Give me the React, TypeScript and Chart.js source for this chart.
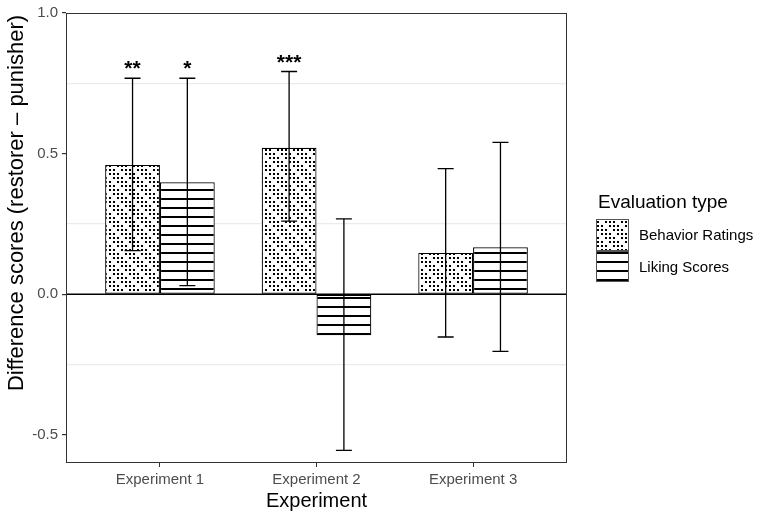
import React, { useEffect, useRef } from 'react';
import { Chart, registerables } from 'chart.js';

Chart.register(...registerables);

// ---- data ----
const categories = ['Experiment 1', 'Experiment 2', 'Experiment 3'];
const seriesNames = ['Behavior Ratings', 'Liking Scores'];
const behaviorMeans = [0.46, 0.521, 0.147];
const behaviorLow = [0.155, 0.26, -0.152];
const behaviorHigh = [0.768, 0.792, 0.447];
const likingMeans = [0.398, -0.146, 0.167];
const likingLow = [0.031, -0.555, -0.203];
const likingHigh = [0.768, 0.268, 0.54];
const behaviorStars = ['**', '***', ''];
const likingStars = ['*', '', ''];
const yMajorTicks = [-0.5, 0, 0.5, 1.0];
const yMinorTicks = [-0.25, 0.25, 0.75];
const yMin = -0.6;
const yMax = 1.0;
const xTitle = 'Experiment';
const yTitle = 'Difference scores (restorer \u2013 punisher)';
const legendTitle = 'Evaluation type';

const FONT = '"Liberation Sans", Arial, Helvetica, sans-serif';

function makeDotPattern(): CanvasPattern | string {
  const c = document.createElement('canvas');
  c.width = 16;
  c.height = 16;
  const g = c.getContext('2d');
  if (!g) return '#fff';
  g.fillStyle = '#fff';
  g.fillRect(0, 0, 16, 16);
  g.fillStyle = '#000';
  const skip = new Set(['1,2', '3,0', '2,3', '0,1']);
  for (let i = 0; i < 4; i++) {
    for (let j = 0; j < 4; j++) {
      if (skip.has(i + ',' + j)) continue;
      g.fillRect(i * 4 + 1, j * 4 + 1, 2, 2);
    }
  }
  return g.createPattern(c, 'repeat') || '#fff';
}

function makeLinePattern(): CanvasPattern | string {
  const c = document.createElement('canvas');
  c.width = 8;
  c.height = 9;
  const g = c.getContext('2d');
  if (!g) return '#fff';
  g.fillStyle = '#fff';
  g.fillRect(0, 0, 8, 9);
  g.fillStyle = '#000';
  g.fillRect(0, 0, 8, 2);
  return g.createPattern(c, 'repeat') || '#fff';
}

export default function App() {
  const ref = useRef<HTMLCanvasElement | null>(null);

  useEffect(() => {
    const canvas = ref.current;
    if (!canvas) return;
    const dots = makeDotPattern();
    const lines = makeLinePattern();
    const lows = [behaviorLow, likingLow];
    const highs = [behaviorHigh, likingHigh];
    const stars = [behaviorStars, likingStars];
    const fills = [dots, lines];

    const overlay = {
      id: 'overlay',
      afterDatasetsDraw(chart: any) {
        const ctx = chart.ctx as CanvasRenderingContext2D;
        const { left, right, top, bottom } = chart.chartArea;
        const ys = chart.scales.y;
        ctx.save();
        // zero line
        ctx.strokeStyle = '#000';
        ctx.lineWidth = 1.6;
        ctx.beginPath();
        const y0 = ys.getPixelForValue(0);
        ctx.moveTo(left, y0);
        ctx.lineTo(right, y0);
        ctx.stroke();
        // error bars + stars
        for (let d = 0; d < 2; d++) {
          const meta = chart.getDatasetMeta(d);
          meta.data.forEach((el: any, i: number) => {
            const x = el.x;
            const yl = ys.getPixelForValue(lows[d][i]);
            const yh = ys.getPixelForValue(highs[d][i]);
            ctx.strokeStyle = '#000';
            ctx.lineWidth = 1.3;
            ctx.beginPath();
            ctx.moveTo(x, yl);
            ctx.lineTo(x, yh);
            ctx.moveTo(x - 8, yl);
            ctx.lineTo(x + 8, yl);
            ctx.moveTo(x - 8, yh);
            ctx.lineTo(x + 8, yh);
            ctx.stroke();
            const s = stars[d][i];
            if (s) {
              ctx.fillStyle = '#000';
              ctx.font = 'bold 21px ' + FONT;
              ctx.textAlign = 'center';
              ctx.textBaseline = 'alphabetic';
              ctx.fillText(s, x, yh - 3);
            }
          });
        }
        // panel border
        ctx.strokeStyle = '#333';
        ctx.lineWidth = 1;
        ctx.strokeRect(left + 0.5, top + 0.5, right - left - 1, bottom - top - 1);
        ctx.restore();
      },
      afterDraw(chart: any) {
        const ctx = chart.ctx as CanvasRenderingContext2D;
        const { left, right } = chart.chartArea;
        ctx.save();
        // axis titles
        ctx.fillStyle = '#000';
        ctx.font = '20px ' + FONT;
        ctx.textAlign = 'center';
        ctx.textBaseline = 'middle';
        ctx.fillText(xTitle, (left + right) / 2, 501);
        ctx.translate(17, 203);
        ctx.rotate(-Math.PI / 2);
        ctx.font = '22px ' + FONT;
        ctx.fillText(yTitle, 0, 0);
        ctx.setTransform(1, 0, 0, 1, 0, 0);
        // legend
        ctx.font = '19px ' + FONT;
        ctx.textAlign = 'left';
        ctx.textBaseline = 'alphabetic';
        ctx.fillText(legendTitle, 598, 208);
        const keys = [
          [596, 219, 33, 32],
          [596, 251, 33, 31],
        ];
        ctx.font = '15px ' + FONT;
        ctx.textBaseline = 'middle';
        for (let d = 0; d < 2; d++) {
          const [kx, ky, kw, kh] = keys[d];
          ctx.fillStyle = fills[d] as any;
          ctx.fillRect(kx, ky, kw, kh);
          ctx.strokeStyle = '#555';
          ctx.lineWidth = 1;
          ctx.strokeRect(kx + 0.5, ky + 0.5, kw - 1, kh - 1);
          ctx.fillStyle = '#000';
          ctx.fillText(seriesNames[d], 639, ky + kh / 2 + 1);
        }
        ctx.restore();
      },
    };

    const chart = new Chart(canvas, {
      type: 'bar',
      data: {
        datasets: [
          {
            label: seriesNames[0],
            data: behaviorMeans.map((v, i) => ({ x: i + 1, y: v })),
            backgroundColor: dots as any,
            borderColor: '#000',
            borderWidth: 1.2,
            borderSkipped: false,
            categoryPercentage: 0.7,
            barPercentage: 1.0,
          },
          {
            label: seriesNames[1],
            data: likingMeans.map((v, i) => ({ x: i + 1, y: v })),
            backgroundColor: lines as any,
            borderColor: '#000',
            borderWidth: 1.2,
            borderSkipped: false,
            categoryPercentage: 0.7,
            barPercentage: 1.0,
          },
        ] as any,
      },
      options: {
        animation: false,
        responsive: false,
        maintainAspectRatio: false,
        layout: { padding: { left: 0, right: 198, top: 10, bottom: 0 } },
        plugins: { legend: { display: false }, tooltip: { enabled: false } },
        scales: {
          x: {
            type: 'linear',
            min: 0.4,
            max: 3.6,
            offset: false,
            afterBuildTicks: (s: any) => {
              s.ticks = categories.map((_, i) => ({ value: i + 1 }));
            },
            afterFit: (s: any) => {
              s.height = 54;
            },
            ticks: {
              autoSkip: false,
              maxRotation: 0,
              padding: 4,
              color: '#4d4d4d',
              font: { family: FONT, size: 15 },
              callback: (v: any) => categories[Math.round(Number(v)) - 1] ?? '',
            },
            grid: {
              offset: false,
              drawOnChartArea: false,
              drawTicks: true,
              tickLength: 4,
              tickColor: '#333',
            },
            border: { display: false },
          } as any,
          y: {
            min: yMin,
            max: yMax,
            afterBuildTicks: (s: any) => {
              s.ticks = [...yMajorTicks, ...yMinorTicks]
                .sort((a, b) => a - b)
                .map((v) => ({ value: v }));
            },
            afterFit: (s: any) => {
              s.width = 66;
            },
            ticks: {
              autoSkip: false,
              padding: 4,
              color: '#4d4d4d',
              font: { family: FONT, size: 15 },
              callback: (v: any) => (yMajorTicks.includes(Number(v)) ? Number(v).toFixed(1) : ''),
            },
            grid: {
              lineWidth: 1.2,
              tickLength: 4,
              color: (c: any) =>
                c.tick && yMinorTicks.includes(c.tick.value) ? '#ebebeb' : 'rgba(0,0,0,0)',
              tickColor: (c: any) =>
                c.tick && yMinorTicks.includes(c.tick.value) ? 'rgba(0,0,0,0)' : '#333',
            },
            border: { display: false },
          } as any,
        },
      } as any,
      plugins: [overlay],
    });

    return () => chart.destroy();
  }, []);

  return (
    <div style={{ position: 'absolute', left: 0, top: 0, width: 765, height: 517, background: '#fff' }}>
      <canvas ref={ref} width={765} height={517} style={{ width: 765, height: 517, display: 'block' }} />
    </div>
  );
}
